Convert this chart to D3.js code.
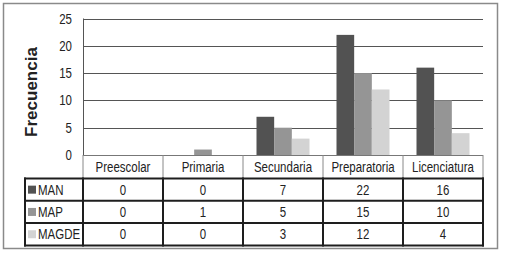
<!DOCTYPE html>
<html>
<head>
<meta charset="utf-8">
<script src="https://cdn.jsdelivr.net/npm/d3@7"></script>
<style>
    body { margin: 0; background: #fff; }
    svg text { font-family: "Liberation Sans", Arial, sans-serif; fill: #222; font-size: 14px; }
</style>
</head>
<body>
<div id="chart"></div>
<script>

// data
let categories = ['Preescolar', 'Primaria', 'Secundaria', 'Preparatoria', 'Licenciatura'];
let seriesNames = ['MAN', 'MAP', 'MAGDE'];
let manValues = [0, 0, 7, 22, 16];
let mapValues = [0, 1, 5, 15, 10];
let magdeValues = [0, 0, 3, 12, 4];
let yTicks = [0, 5, 10, 15, 20, 25];
let seriesColors = ['#525252', '#959595', '#d3d3d3'];

// the original uses a condensed face, squeeze the text horizontally
const NARROW = 0.82;
function place(x, y) {
    return "translate(" + x + "," + y + ") scale(" + NARROW + ",1)";
}

class FrecuenciaVis {

    constructor(parentElement) {
        this.parentElement = parentElement;
        this.initVis();
    }

    initVis() {
        let vis = this;

        vis.width = 505;
        vis.height = 258;

        vis.svg = d3.select("#" + vis.parentElement).append("svg")
            .attr("width", vis.width)
            .attr("height", vis.height);

        // outer frame
        vis.svg.append("rect")
            .attr("x", 3.5).attr("y", 3.5)
            .attr("width", 494).attr("height", 245)
            .attr("fill", "#fff")
            .attr("stroke", "#8a8a8a")
            .attr("stroke-width", 1.5);

        vis.displayData = seriesNames.map((s, i) => ({
            key: s,
            color: seriesColors[i],
            values: [manValues, mapValues, magdeValues][i]
        }));

        vis.x = d3.scaleBand()
            .domain(categories)
            .range([83, 483]);

        vis.y = d3.scaleLinear()
            .domain([0, 25])
            .range([155, 18.5]);

        vis.xSub = d3.scaleBand()
            .domain(seriesNames)
            .range([0, 53]);

        vis.updateVis();
    }

    updateVis() {
        let vis = this;

        // grid lines
        vis.svg.append("g")
            .selectAll("line")
            .data(yTicks.slice(1))
            .enter().append("line")
            .attr("x1", 83).attr("x2", 483)
            .attr("y1", d => Math.round(vis.y(d)) + 0.5)
            .attr("y2", d => Math.round(vis.y(d)) + 0.5)
            .attr("stroke", "#555")
            .attr("stroke-width", 1);

        // y axis line + labels
        vis.svg.append("line")
            .attr("x1", 83.5).attr("x2", 83.5)
            .attr("y1", vis.y(25)).attr("y2", vis.y(0))
            .attr("stroke", "#555");

        vis.svg.append("g")
            .selectAll("text")
            .data(yTicks)
            .enter().append("text")
            .attr("transform", d => place(72, vis.y(d) + 5))
            .attr("text-anchor", "end")
            .text(d => d);

        vis.svg.append("text")
            .attr("transform", "translate(37,92) rotate(-90)")
            .attr("text-anchor", "middle")
            .style("font-weight", "bold")
            .style("font-size", "17px")
            .text("Frecuencia");

        // bars
        let offset = (vis.x.bandwidth() - 53) / 2;
        vis.svg.append("g")
            .selectAll("g")
            .data(vis.displayData)
            .enter().append("g")
            .attr("fill", d => d.color)
            .selectAll("rect")
            .data(d => d.values.map((v, i) => ({key: d.key, cat: categories[i], value: v})))
            .enter().append("rect")
            .attr("x", d => vis.x(d.cat) + offset + vis.xSub(d.key))
            .attr("y", d => vis.y(d.value))
            .attr("width", vis.xSub.bandwidth())
            .attr("height", d => vis.y(0) - vis.y(d.value));

        // data table
        let headerTop = 155, headerBottom = 178.5;
        let rowH = 22.3;
        let tableBottom = headerBottom + rowH * 3;
        let bounds = categories.map(c => vis.x(c)).concat([vis.x.range()[1]]);

        let table = vis.svg.append("g");

        // header row (thin)
        table.append("line")
            .attr("x1", 83).attr("x2", 483)
            .attr("y1", headerTop + 0.5).attr("y2", headerTop + 0.5)
            .attr("stroke", "#777");
        table.selectAll(".hdiv")
            .data(bounds)
            .enter().append("line")
            .attr("class", "hdiv")
            .attr("x1", d => d).attr("x2", d => d)
            .attr("y1", headerTop).attr("y2", headerBottom)
            .attr("stroke", "#888")
            .attr("stroke-width", 1);
        table.selectAll(".hlabel")
            .data(categories)
            .enter().append("text")
            .attr("class", "hlabel")
            .attr("transform", d => place(vis.x(d) + vis.x.bandwidth() / 2, 172))
            .attr("text-anchor", "middle")
            .text(d => d);

        // data rows (heavy)
        table.selectAll(".hrow")
            .data(d3.range(4))
            .enter().append("line")
            .attr("class", "hrow")
            .attr("x1", 24).attr("x2", 484)
            .attr("y1", i => headerBottom + i * rowH)
            .attr("y2", i => headerBottom + i * rowH)
            .attr("stroke", "#1e1e1e")
            .attr("stroke-width", 2);
        table.selectAll(".vdiv")
            .data([25].concat(bounds))
            .enter().append("line")
            .attr("class", "vdiv")
            .attr("x1", d => d).attr("x2", d => d)
            .attr("y1", headerBottom - 1).attr("y2", tableBottom + 1)
            .attr("stroke", "#1e1e1e")
            .attr("stroke-width", 2);

        let rows = table.selectAll(".row")
            .data(vis.displayData)
            .enter().append("g")
            .attr("class", "row")
            .attr("transform", (d, i) => "translate(0," + (headerBottom + i * rowH) + ")");

        rows.append("rect")
            .attr("x", 28).attr("y", rowH / 2 - 4)
            .attr("width", 8).attr("height", 8)
            .attr("fill", d => d.color);

        rows.append("text")
            .attr("transform", place(38, rowH / 2 + 5))
            .text(d => d.key);

        rows.selectAll(".val")
            .data(d => d.values.map((v, i) => ({cat: categories[i], value: v})))
            .enter().append("text")
            .attr("class", "val")
            .attr("transform", d => place(vis.x(d.cat) + vis.x.bandwidth() / 2, rowH / 2 + 5))
            .attr("text-anchor", "middle")
            .text(d => d.value);
    }
}

new FrecuenciaVis("chart");

</script>
</body>
</html>
